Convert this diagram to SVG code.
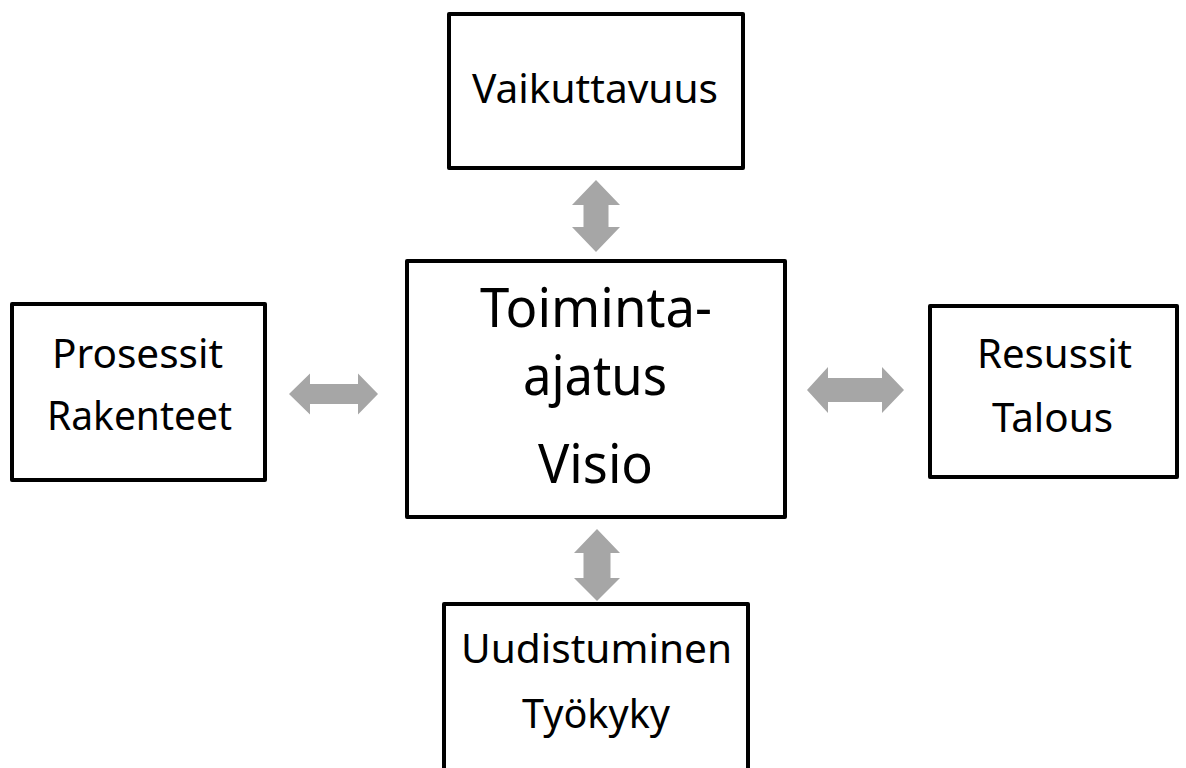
<svg xmlns="http://www.w3.org/2000/svg" width="1186" height="768" viewBox="0 0 1186 768">
<style>
.box{fill:#fff;stroke:#000;stroke-width:4;stroke-linejoin:round}
.t{font-family:"Noto Sans","Open Sans",sans-serif;font-size:40px;fill:#000;text-anchor:middle}
.tb{font-family:"Noto Sans","Open Sans",sans-serif;font-size:55px;fill:#000;text-anchor:middle}
.arr{fill:#a6a6a6}
</style>
<rect width="1186" height="768" fill="#fff"/>
<g id="connectors">
<polygon class="arr" points="596,180 620,205 608.5,205 608.5,227 620,227 596,252 572,227 583.5,227 583.5,205 572,205"/>
<polygon class="arr" points="597,529 620,553 610.5,553 610.5,578 620,578 597,601 574,578 583.5,578 583.5,553 574,553"/>
<polygon class="arr" points="289,394 310,373.5 310,384 358,384 358,373.5 378,394 358,414.5 358,404 310,404 310,414.5"/>
<polygon class="arr" points="807,390 828,367 828,378 882,378 882,367 904,390 882,413 882,402 828,402 828,413"/>
</g>
<g id="node-vaikuttavuus">
<rect class="box" x="449" y="14" width="294" height="154"/>
<text class="t" x="595" y="103" textLength="246" lengthAdjust="spacingAndGlyphs">Vaikuttavuus</text>
</g>
<g id="node-toiminta">
<rect class="box" x="407" y="261" width="378" height="256"/>
<text class="tb" x="596" y="327" textLength="232" lengthAdjust="spacingAndGlyphs">Toiminta-</text>
<text class="tb" x="595" y="395" textLength="144" lengthAdjust="spacingAndGlyphs">ajatus</text>
<text class="tb" x="595.5" y="483" textLength="115" lengthAdjust="spacingAndGlyphs">Visio</text>
</g>
<g id="node-prosessit">
<rect class="box" x="12" y="304" width="253" height="176"/>
<text class="t" x="137.5" y="368" textLength="171" lengthAdjust="spacingAndGlyphs">Prosessit</text>
<text class="t" x="139.5" y="430" textLength="185" lengthAdjust="spacingAndGlyphs">Rakenteet</text>
</g>
<g id="node-resussit">
<rect class="box" x="930" y="306" width="247" height="171"/>
<text class="t" x="1054.5" y="368" textLength="155" lengthAdjust="spacingAndGlyphs">Resussit</text>
<text class="t" x="1052.5" y="432" textLength="121" lengthAdjust="spacingAndGlyphs">Talous</text>
</g>
<g id="node-uudistuminen">
<rect class="box" x="444" y="604" width="304" height="200"/>
<text class="t" x="596.5" y="663" textLength="271" lengthAdjust="spacingAndGlyphs">Uudistuminen</text>
<text class="t" x="596" y="728" textLength="148" lengthAdjust="spacingAndGlyphs">Työkyky</text>
</g>
</svg>
